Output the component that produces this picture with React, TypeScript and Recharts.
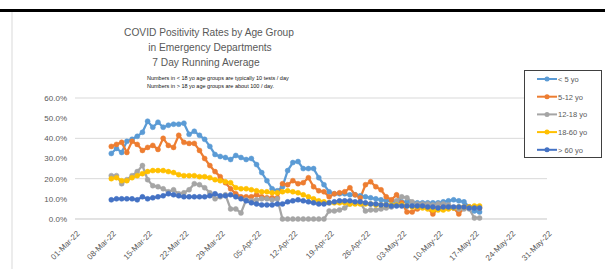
import React from "react";
import { LineChart, Line, XAxis, YAxis, CartesianGrid } from "recharts";

// day offsets from 01-Mar-22 (daily data, 08-Mar-22 .. 18-May-22)
const firstDay = 7;
const lt5 = [
  32.5, 35, 33, 38.5, 39.5, 41, 43, 48.5, 45.5, 48,
  45.5, 46.5, 47, 47, 47.5, 42, 43.5, 41.5, 39.5, 36,
  32, 31, 30.5, 29.5, 31.5, 30.5, 29.5, 30, 27, 23,
  19, 15, 14, 16, 24, 28, 28.5, 25, 25, 25,
  20.5, 17, 13.5, 12.5, 12.5, 12.5, 12, 12, 11.5, 11,
  10.5, 10, 9.5, 9, 9, 8.5, 8.5, 8.5, 8, 8,
  8, 8, 8, 8, 8.5, 9, 9.5, 9, 8.5, 6,
  4, 3.5,
];
const a512 = [
  36, 37, 38, 33, 38.5, 37, 34, 35.5, 36.5, 34.5,
  40, 36.5, 35.5, 41.5, 38, 37.5, 37.5, 34, 30, 26.5,
  23.5, 21, 18, 15, 12.5, 11, 11, 11, 12, 11,
  10.5, 10.5, 10.5, 17.5, 17, 19, 17.5, 18, 20.5, 16,
  14, 13.5, 11, 12.5, 13, 13.5, 15.5, 12, 10.5, 17,
  18.5, 16, 14.5, 11, 9.5, 12, 8, 3.5, 3.5, 5,
  7, 5.5, 2.5, 5.5, 6.5, 6.5, 5.5, 2.5, 5.5, 6,
  6, 5.5,
];
const a1218 = [
  21.5, 21.5, 17.5, 19.5, 21.5, 23.5, 26.5, 19.5, 16.5, 16,
  15, 13.5, 14.5, 12.5, 13, 14.5, 17.5, 17, 15.5, 13,
  10, 11, 12, 5, 5, 3, 9.5, 9, 9.5, 10,
  10, 9.5, 10, 0, 0, 0, 0, 0, 0, 0,
  0, 0, 4, 4, 4.5, 5.5, 7.5, 8, 8, 4,
  4.5, 4.5, 5, 5.5, 6, 9, 11, 10.5, 8.5, 7.5,
  7.5, 7.5, 7, 7.5, 7.5, 7, 5.5, 5, 5, 5,
  0.5, 0.5,
];
const a1860 = [
  20, 20.5, 19, 19, 20.5, 21.5, 22.5, 23.5, 24, 24,
  24, 23.5, 23, 22, 21.5, 21.5, 21.5, 21, 21, 20.5,
  19.5, 19, 18.5, 18, 15.5, 15, 15, 14.5, 14, 13.5,
  13.5, 13, 13, 13.5, 14, 13.5, 13, 12, 11, 10,
  9, 8.5, 8, 8, 8, 8, 7.5, 7.5, 7.5, 7.5,
  7.5, 7, 7, 7, 7, 7, 7, 6.5, 6, 6,
  5.5, 5, 4.5, 4.5, 4.5, 5, 5.5, 6, 6, 6,
  6.5, 6.5,
];
const gt60 = [
  9.5, 10, 10, 10, 10, 9.5, 11, 10, 10.5, 11,
  11.5, 12.5, 12, 11.5, 11, 11, 11, 11, 11, 11.5,
  12.5, 11.5, 11.5, 12, 11, 10, 9, 8, 7.5, 7,
  7, 7, 7.5, 7.5, 8.5, 9, 9.5, 9, 8.5, 8,
  7.5, 7.5, 8, 8.5, 9, 9, 9, 8.5, 8.5, 8,
  7.5, 7.5, 7, 7, 6.5, 6.5, 6.5, 6.5, 6.5, 6.5,
  6.5, 6, 6, 5.5, 6, 6, 6, 6, 6, 5.5,
  5.5, 5.5,
];

const tickLabels = [
  "01-Mar-22", "08-Mar-22", "15-Mar-22", "22-Mar-22", "29-Mar-22", "05-Apr-22", "12-Apr-22",
  "19-Apr-22", "26-Apr-22", "03-May-22", "10-May-22", "17-May-22", "24-May-22", "31-May-22",
];
const tickDays = tickLabels.map((_, i) => i * 7);
const yTicks = [0, 10, 20, 30, 40, 50, 60];

const seriesDefs = [
  { key: "lt5", name: "< 5 yo", color: "#5B9BD5", values: lt5 },
  { key: "a512", name: "5-12 yo", color: "#ED7D31", values: a512 },
  { key: "a1218", name: "12-18 yo", color: "#A5A5A5", values: a1218 },
  { key: "a1860", name: "18-60 yo", color: "#FFC000", values: a1860 },
  { key: "gt60", name: "> 60 yo", color: "#4472C4", values: gt60 },
];

const data = lt5.map((_, i) => {
  const row: any = { d: firstDay + i };
  seriesDefs.forEach((s) => (row[s.key] = s.values[i]));
  return row;
});

const FONT = "'Liberation Sans', Arial, sans-serif";

const XTick = (props: any) => {
  const { x, y, payload } = props;
  const idx = tickDays.indexOf(payload.value);
  return (
    <g transform={`translate(${x + 3},${y + 5})`}>
      <text textAnchor="end" transform="rotate(-45)" fontSize={8} fill="#595959" fontFamily={FONT} dy={3}>
        {tickLabels[idx]}
      </text>
    </g>
  );
};

export default function App() {
  return (
    <div style={{ position: "absolute", left: 0, top: 0, width: 605, height: 269, background: "#fff", fontFamily: FONT }}>
      <svg width={605} height={269} style={{ position: "absolute", left: 0, top: 0 }}>
        <rect x={0} y={9} width={605} height={3} fill="#000" />
        <line x1={12} y1={12} x2={12} y2={269} stroke="#d9d9d9" strokeWidth={1} />
        <g fontFamily={FONT} fill="#595959" textAnchor="middle">
          <text x={209} y={36} fontSize={10.2}>COVID Positivity Rates by Age Group</text>
          <text x={210} y={51} fontSize={10.2}>in Emergency Departments</text>
          <text x={206} y={66} fontSize={10.2}>7 Day Running Average</text>
        </g>
        <g fontFamily={FONT} fill="#111" fontSize={5.5}>
          <text x={147} y={79.5}>Numbers in &lt; 18 yo age groups are typically 10 tests / day</text>
          <text x={147} y={87.5}>Numbers in &gt; 18 yo age groups are about 100 / day.</text>
        </g>
      </svg>
      <div style={{ position: "absolute", left: 0, top: 0 }}>
        <LineChart width={605} height={269} data={data} margin={{ top: 98, right: 58, left: 0, bottom: 0 }}>
          <CartesianGrid horizontal vertical={false} stroke="#d9d9d9" />
          <XAxis
            dataKey="d"
            type="number"
            domain={[0, 91]}
            ticks={tickDays}
            interval={0}
            height={50}
            tick={<XTick />}
            tickLine={false}
            axisLine={{ stroke: "#d9d9d9" }}
          />
          <YAxis
            type="number"
            domain={[0, 60]}
            ticks={yTicks}
            width={75}
            tickLine={false}
            axisLine={false}
            tickFormatter={(v: number) => v.toFixed(1) + "%"}
            tick={{ fontSize: 8, fill: "#595959", fontFamily: FONT }}
          />
          {seriesDefs.map((s) => (
            <Line
              key={s.key}
              dataKey={s.key}
              name={s.name}
              stroke={s.color}
              strokeWidth={2.25}
              dot={{ r: 2.5, fill: s.color, stroke: s.color, strokeWidth: 0.5 }}
              activeDot={false}
              isAnimationActive={false}
            />
          ))}
        </LineChart>
      </div>
      <div
        style={{
          position: "absolute",
          left: 524,
          top: 70,
          width: 76,
          height: 86,
          border: "1px solid #404040",
          background: "#fff",
        }}
      >
        <svg width={76} height={86}>
          {seriesDefs.map((s, i) => {
            const cy = 8 + i * 17.7;
            return (
              <g key={s.key}>
                <line x1={12} x2={32} y1={cy} y2={cy} stroke={s.color} strokeWidth={2} />
                <circle cx={22} cy={cy} r={2.5} fill={s.color} />
                <text x={33} y={cy + 2.8} fontSize={7.5} fill="#595959" fontFamily={FONT}>
                  {s.name}
                </text>
              </g>
            );
          })}
        </svg>
      </div>
    </div>
  );
}
